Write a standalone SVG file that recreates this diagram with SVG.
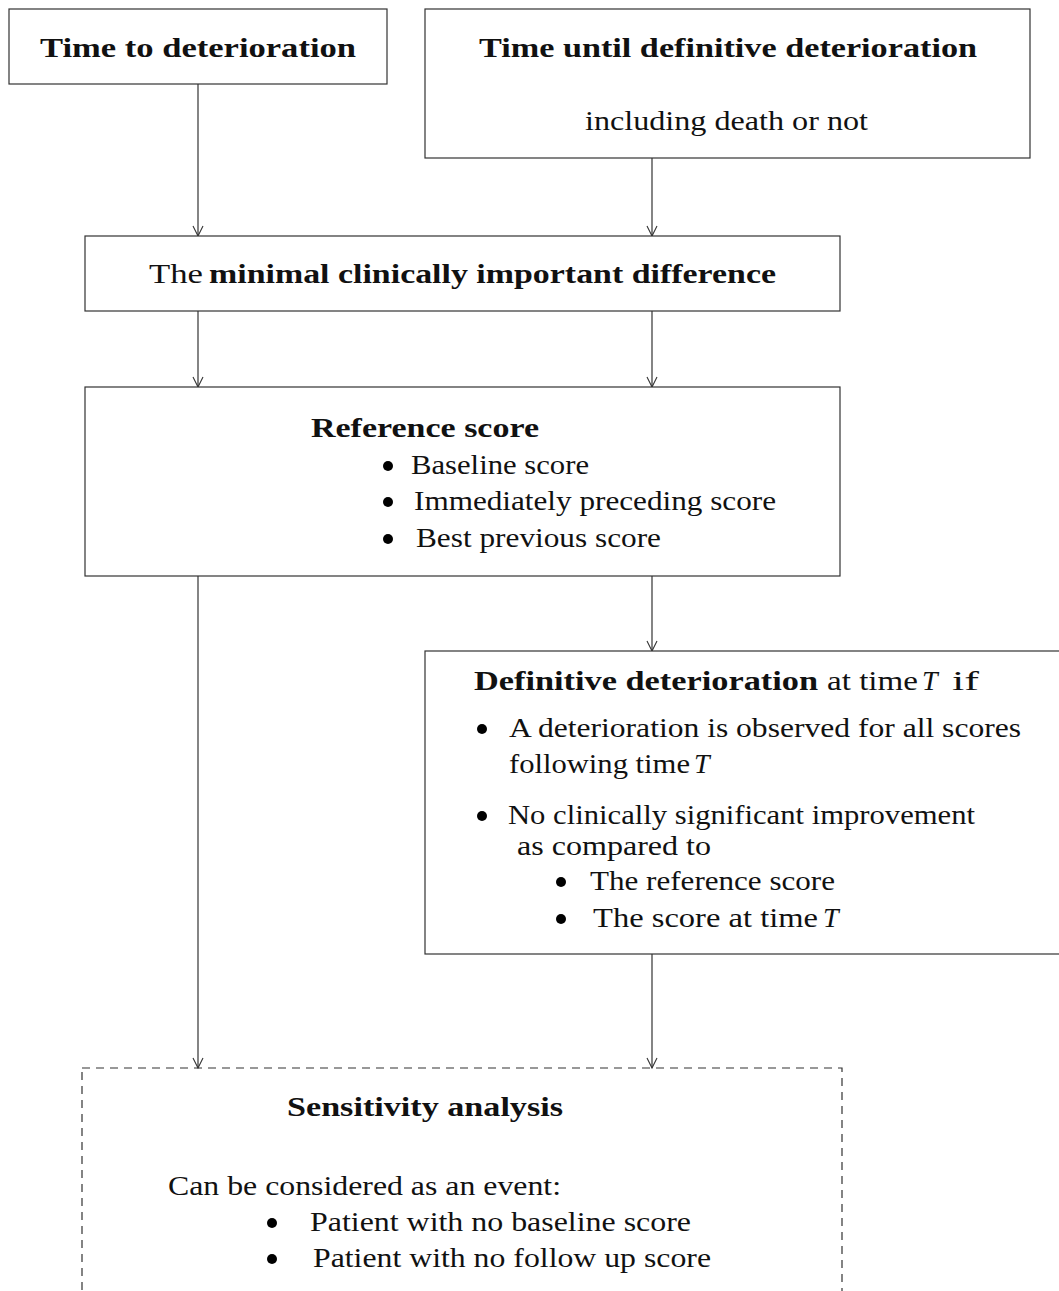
<svg xmlns="http://www.w3.org/2000/svg" width="1059" height="1291" viewBox="0 0 1059 1291">
<defs>
<style>
.box{fill:#fff;stroke:#333;stroke-width:1.2}
.dash{fill:none;stroke:#333;stroke-width:1.2;stroke-dasharray:8 6}
.t{font-family:"Liberation Serif","Times New Roman",serif;font-size:28px;fill:#111}
.b{font-weight:bold}
.i{font-style:italic}
.ln{stroke:#333;stroke-width:1.2;fill:none}
</style>
<marker id="ah" viewBox="0 0 12 12" refX="11" refY="6" markerWidth="12" markerHeight="12" markerUnits="userSpaceOnUse" orient="auto">
<path d="M1,1 L11,6 L1,11" fill="none" stroke="#333" stroke-width="1.1"/>
</marker>
</defs>
<rect width="1059" height="1291" fill="#fff"/>
<g id="connectors">
<line class="ln" x1="198" y1="84" x2="198" y2="236" marker-end="url(#ah)"/>
<line class="ln" x1="652" y1="158" x2="652" y2="236" marker-end="url(#ah)"/>
<line class="ln" x1="198" y1="311" x2="198" y2="387" marker-end="url(#ah)"/>
<line class="ln" x1="652" y1="311" x2="652" y2="387" marker-end="url(#ah)"/>
<line class="ln" x1="652" y1="576" x2="652" y2="651" marker-end="url(#ah)"/>
<line class="ln" x1="198" y1="576" x2="198" y2="1068" marker-end="url(#ah)"/>
<line class="ln" x1="652" y1="954" x2="652" y2="1068" marker-end="url(#ah)"/>
</g>
<g id="n1">
<rect class="box" x="9" y="9" width="378" height="75"/>
<text class="t b" x="40" y="57" textLength="316" lengthAdjust="spacingAndGlyphs">Time to deterioration</text>
</g>
<g id="n2">
<rect class="box" x="425" y="9" width="605" height="149"/>
<text class="t b" x="479" y="57" textLength="498" lengthAdjust="spacingAndGlyphs">Time until definitive deterioration</text>
<text class="t" x="585" y="130" textLength="283" lengthAdjust="spacingAndGlyphs">including death or not</text>
</g>
<g id="n3">
<rect class="box" x="85" y="236" width="755" height="75"/>
<text class="t" x="149" y="283" textLength="54" lengthAdjust="spacingAndGlyphs">The</text>
<text class="t b" x="209" y="283" textLength="567" lengthAdjust="spacingAndGlyphs">minimal clinically important difference</text>
</g>
<g id="n4">
<rect class="box" x="85" y="387" width="755" height="189"/>
<text class="t b" x="311" y="437" textLength="228" lengthAdjust="spacingAndGlyphs">Reference score</text>
<circle cx="388" cy="466" r="5"/>
<text class="t" x="411" y="474" textLength="178" lengthAdjust="spacingAndGlyphs">Baseline score</text>
<circle cx="388" cy="502" r="5"/>
<text class="t" x="414" y="510" textLength="362" lengthAdjust="spacingAndGlyphs">Immediately preceding score</text>
<circle cx="388" cy="539" r="5"/>
<text class="t" x="416" y="547" textLength="245" lengthAdjust="spacingAndGlyphs">Best previous score</text>
</g>
<g id="n5">
<rect class="box" x="425" y="651" width="640" height="303"/>
<text class="t b" x="474" y="690" textLength="344" lengthAdjust="spacingAndGlyphs">Definitive deterioration</text>
<text class="t" x="827" y="690" textLength="91" lengthAdjust="spacingAndGlyphs">at time</text>
<text class="t i" x="922" y="690">T</text>
<text class="t" x="952" y="690" textLength="27" lengthAdjust="spacingAndGlyphs">if</text>
<circle cx="482" cy="729" r="5"/>
<text class="t" x="509" y="737" textLength="512" lengthAdjust="spacingAndGlyphs">A deterioration is observed for all scores</text>
<text class="t" x="509" y="773" textLength="181" lengthAdjust="spacingAndGlyphs">following time</text>
<text class="t i" x="694" y="773">T</text>
<circle cx="482" cy="816" r="5"/>
<text class="t" x="508" y="824" textLength="467" lengthAdjust="spacingAndGlyphs">No clinically significant improvement</text>
<text class="t" x="517" y="855" textLength="194" lengthAdjust="spacingAndGlyphs">as compared to</text>
<circle cx="561" cy="882" r="5"/>
<text class="t" x="590" y="890" textLength="245" lengthAdjust="spacingAndGlyphs">The reference score</text>
<circle cx="561" cy="919" r="5"/>
<text class="t" x="593" y="927" textLength="225" lengthAdjust="spacingAndGlyphs">The score at time</text>
<text class="t i" x="823" y="927">T</text>
</g>
<g id="n6">
<rect class="dash" x="82" y="1068" width="760" height="240"/>
<text class="t b" x="287" y="1116" textLength="276" lengthAdjust="spacingAndGlyphs">Sensitivity analysis</text>
<text class="t" x="168" y="1195" textLength="393" lengthAdjust="spacingAndGlyphs">Can be considered as an event:</text>
<circle cx="272" cy="1223" r="5"/>
<text class="t" x="310" y="1231" textLength="381" lengthAdjust="spacingAndGlyphs">Patient with no baseline score</text>
<circle cx="272" cy="1259" r="5"/>
<text class="t" x="313" y="1267" textLength="398" lengthAdjust="spacingAndGlyphs">Patient with no follow up score</text>
</g>
</svg>
